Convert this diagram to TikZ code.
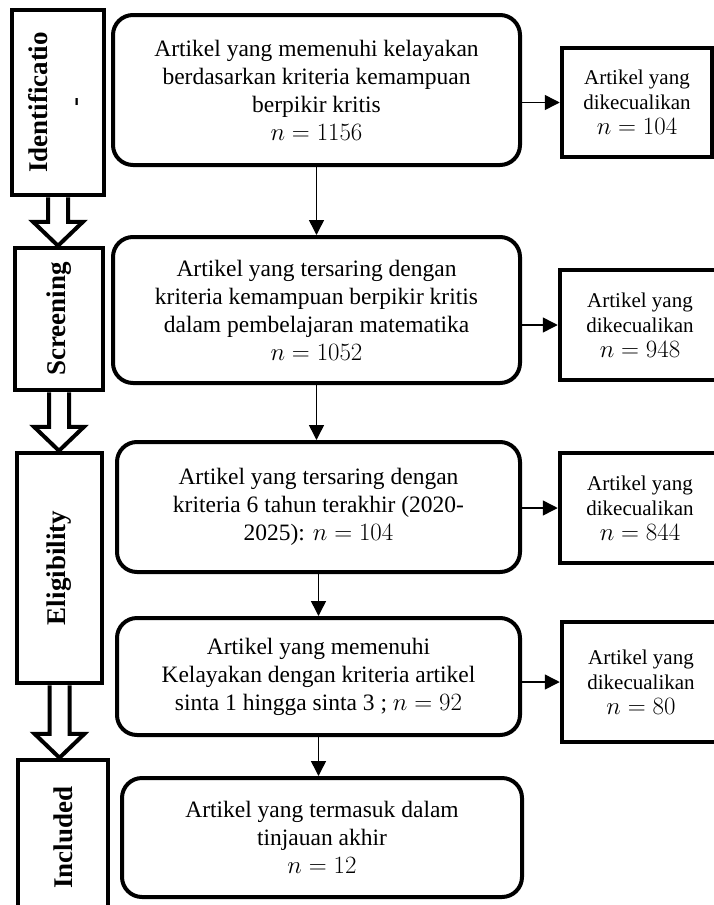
\documentclass[tikz,border=0pt]{standalone}
\usepackage{fontspec}
\setmainfont{Liberation Serif}
\usetikzlibrary{arrows.meta,calc}

\newcommand{\nbig}[1]{{\fontsize{27}{28}\selectfont$n = #1$}}
\newcommand{\nsmall}[1]{{\fontsize{24}{25}\selectfont$n = #1$}}
\newcommand{\hollowarrow}[2]{%
  \draw[hollow] let \p1=(#1.south), \p2=(#2.north) in
    (\x1-10pt,\y1) -- (\x1-10pt,\y2+24pt) -- (\x1-25pt,\y2+24pt) -- (\x1,\y2)
    -- (\x1+25pt,\y2+24pt) -- (\x1+10pt,\y2+24pt) -- (\x1+10pt,\y1);}

\begin{document}
\begin{tikzpicture}[x=1pt,y=-1pt,>={Triangle[length=15pt,width=15pt]},
                    line join=miter]
  \tikzstyle{stage}=[draw,line width=4.5pt,inner sep=0pt,
                     font=\fontsize{27}{36}\selectfont\bfseries]
  \tikzstyle{record}=[draw,line width=4pt,rounded corners=20pt,align=center,
                      inner sep=0pt,font=\fontsize{23.5}{28}\selectfont]
  \tikzstyle{excluded}=[draw,line width=4.5pt,align=center,inner sep=0pt,
                        font=\fontsize{21}{25}\selectfont]
  \tikzstyle{flow}=[->,line width=1.5pt]
  \tikzstyle{hollow}=[draw,line width=4pt]

  \useasboundingbox (0,0) rectangle (714,905);

  % stages on the left
  \node[stage,minimum width=92pt,minimum height=185pt] (ident) at (58,102.5)
       {\rotatebox{90}{\begin{tabular}{@{}c@{}}Identificatio\\-\end{tabular}}};
  \node[stage,minimum width=88pt,minimum height=142pt] (screen) at (59,319)
       {\rotatebox{90}{Screening}};
  \node[stage,minimum width=85pt,minimum height=230pt] (elig) at (59.5,568)
       {\rotatebox{90}{Eligibility}};
  \node[stage,minimum width=90pt,minimum height=155pt] (incl) at (63,837.5)
       {\rotatebox{90}{Included}};

  % records
  \node[record,minimum width=407pt,minimum height=150pt] (found) at (316.5,90)
       {Artikel yang memenuhi kelayakan\\berdasarkan kriteria kemampuan\\
        berpikir kritis\\\nbig{1156}};
  \node[record,minimum width=407pt,minimum height=146pt] (critical) at (316.5,310)
       {Artikel yang tersaring dengan\\kriteria kemampuan berpikir kritis\\
        dalam pembelajaran matematika\\\nbig{1052}};
  \node[record,minimum width=403pt,minimum height=130pt] (recent) at (318.5,507)
       {Artikel yang tersaring dengan\\kriteria 6 tahun terakhir (2020-\\
        2025): \nbig{104}};
  \node[record,minimum width=403pt,minimum height=117pt] (sinta) at (318.5,676.5)
       {Artikel yang memenuhi\\Kelayakan dengan kriteria artikel\\
        sinta 1 hingga sinta 3 ; \nbig{92}};
  \node[record,minimum width=400pt,minimum height=119pt] (final) at (322,837.5)
       {Artikel yang termasuk dalam\\tinjauan akhir\\\nbig{12}};

  % excluded
  \node[excluded,minimum width=150pt,minimum height=109pt] (exA) at (637,102.5)
       {Artikel yang\\dikecualikan\\\nsmall{104}};
  \node[excluded,minimum width=160pt,minimum height=110pt] (exB) at (640,325)
       {Artikel yang\\dikecualikan\\\nsmall{948}};
  \node[excluded,minimum width=160pt,minimum height=110pt] (exC) at (640,508)
       {Artikel yang\\dikecualikan\\\nsmall{844}};
  \node[excluded,minimum width=158pt,minimum height=120pt] (exD) at (641,682)
       {Artikel yang\\dikecualikan\\\nsmall{80}};

  \hollowarrow{ident}{screen}
  \hollowarrow{screen}{elig}
  \hollowarrow{elig}{incl}

  \draw[flow] (found) -- (critical);
  \draw[flow] (critical.south) -- (critical.south |- recent.north);
  \draw[flow] (recent) -- (sinta);
  \draw[flow] (sinta.south) -- (sinta.south |- final.north);

  \draw[flow] (exA.west -| found.east) -- (exA.west);
  \draw[flow] (exB.west -| critical.east) -- (exB.west);
  \draw[flow] (exC.west -| recent.east) -- (exC.west);
  \draw[flow] (exD.west -| sinta.east) -- (exD.west);
\end{tikzpicture}
\end{document}
